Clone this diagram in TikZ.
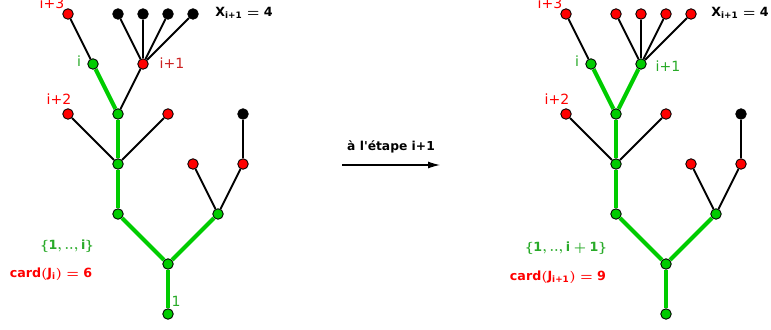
\documentclass[tikz,border=0pt]{standalone}
\usepackage{amsmath}
\usepackage{fontspec}
\setmainfont{DejaVu Sans}
\usetikzlibrary{arrows.meta}

\definecolor{vertg}{RGB}{0,204,0}
\definecolor{rougeg}{RGB}{255,0,0}
\definecolor{rougel}{RGB}{204,34,34}
\definecolor{vertl}{RGB}{40,170,40}

\tikzset{
  sommet/.style={circle,draw=black,line width=0.5pt,inner sep=0pt,minimum size=2.1mm},
  arete/.style={line width=1.1pt},
  chemin/.style={line width=2.4pt,vertg},
  etiq/.style={font=\footnotesize,inner sep=1pt},
  gras/.style={font=\bfseries\boldmath\fontsize{7.2}{8}\selectfont,inner sep=1pt}
}

\begin{document}
\begin{tikzpicture}
    \useasboundingbox (0,0) rectangle (15.42,6.58);
    % les deux arbres : avant et apres l'etape
    \foreach \t/\dx/\cv/\cf/\ce/\we in {g/3.36/rougeg/black/black/1.1pt, d/13.32/vertg/rougeg/vertg/2.4pt}{
      \begin{scope}[shift={(\dx,0.3)}]
        \node[sommet,fill=vertg] (\t0) at (0,0) {};
        \node[sommet,fill=vertg] (\t1) at (0,1) {};
        \node[sommet,fill=vertg] (\t2) at (-1,2) {};
        \node[sommet,fill=vertg] (\t3) at (1,2) {};
        \node[sommet,fill=vertg] (\t4) at (-1,3) {};
        \node[sommet,fill=vertg] (\t5) at (-1,4) {};
        \node[sommet,fill=rougeg] (\t6) at (-2,4) {};
        \node[sommet,fill=rougeg] (\t7) at (0,4) {};
        \node[sommet,fill=vertg] (\t8) at (-1.5,5) {};
        \node[sommet,fill=\cv] (\t9) at (-0.5,5) {};
        \node[sommet,fill=rougeg] (\t10) at (-2,6) {};
        \foreach \k/\x in {11/-1,12/-0.5,13/0,14/0.5}{
          \node[sommet,fill=\cf] (\t\k) at (\x,6) {};
          \draw[arete] (\t9) -- (\t\k);
        }
        \node[sommet,fill=rougeg] (\t15) at (0.5,3) {};
        \node[sommet,fill=rougeg] (\t16) at (1.5,3) {};
        \node[sommet,fill=black] (\t17) at (1.5,4) {};
      \end{scope}
      \draw[chemin] (\t0) -- (\t1);
      \draw[chemin] (\t1) -- (\t2);
      \draw[chemin] (\t1) -- (\t3);
      \draw[chemin] (\t2) -- (\t4);
      \draw[chemin] (\t4) -- (\t5);
      \draw[chemin] (\t5) -- (\t8);
      \draw[line width=\we,\ce] (\t5) -- (\t9);
      \draw[arete] (\t4) -- (\t6);
      \draw[arete] (\t4) -- (\t7);
      \draw[arete] (\t8) -- (\t10);
      \draw[arete] (\t3) -- (\t15);
      \draw[arete] (\t3) -- (\t16);
      \draw[arete] (\t16) -- (\t17);
    }

    % etiquettes de gauche
    \node[etiq,rougeg] (gi3) at (1.04,6.52) {i+3};
    \node[etiq,vertl] (gi) at (1.58,5.36) {i};
    \node[etiq,rougel] (gi1) at (3.44,5.32) {i+1};
    \node[etiq,rougeg] (gi2) at (1.18,4.6) {i+2};
    \node[etiq,vertl] (gun) at (3.52,0.56) {1};
    \node[gras] (gx) at (4.88,6.32) {X$_{\text{i+1}} = \text{4}$};
    \node[gras,vertl] (gens) at (1.34,1.66) {$\{\text{1},..,\text{i}\}$};
    \node[gras,rougeg] (gcard) at (1.02,1.1) {card$($J$_{\text{i}}) = \text{6}$};

    % etiquettes de droite
    \node[etiq,rougeg] (di3) at (11.0,6.52) {i+3};
    \node[etiq,vertl] (di) at (11.54,5.36) {i};
    \node[etiq,vertl] (di1) at (13.36,5.26) {i+1};
    \node[etiq,rougeg] (di2) at (11.14,4.6) {i+2};
    \node[gras] (dx) at (14.8,6.32) {X$_{\text{i+1}} = \text{4}$};
    \node[gras,vertl] (dens) at (11.32,1.62) {$\{\text{1},..,\text{i}+\text{1}\}$};
    \node[gras,rougeg] (dcard) at (11.16,1.04) {card$($J$_{\text{i+1}}) = \text{9}$};

    % fleche entre les deux
    \coordinate (fa) at (6.84,3.28);
    \coordinate (fb) at (8.8,3.28);
    \draw[line width=0.6pt,-{Latex[length=2.4mm,width=1.4mm]}] (fa) -- (fb);
    \node[font=\bfseries\scriptsize] (etape) at (7.82,3.64) {à l\textquotesingle étape i+1};
\end{tikzpicture}
\end{document}
